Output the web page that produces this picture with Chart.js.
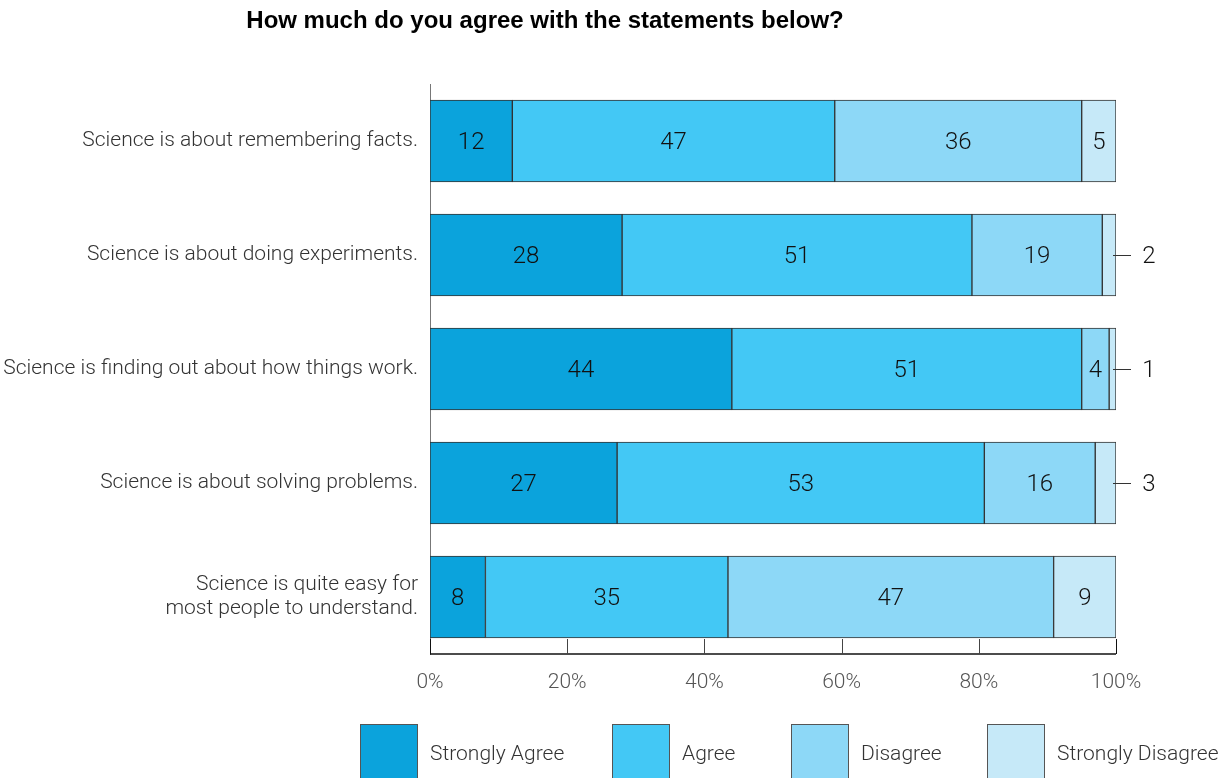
<!DOCTYPE html>
<html>
<head>
<meta charset="utf-8">
<script src="https://cdn.jsdelivr.net/npm/chart.js@4/dist/chart.umd.min.js"></script>
<style>
  body { margin: 0; background: #fff; }
  #wrap { width: 1227px; height: 778px; position: relative; }
</style>
</head>
<body>
<div id="wrap"><canvas id="chart"></canvas></div>
<script>
const statements = [
  'Science is about remembering facts.',
  'Science is about doing experiments.',
  'Science is finding out about how things work.',
  'Science is about solving problems.',
  ['Science is quite easy for', 'most people to understand.']
];
const stronglyAgree = [12, 28, 44, 27, 8];
const agree = [47, 51, 51, 53, 35];
const disagree = [36, 19, 4, 16, 47];
const stronglyDisagree = [5, 2, 1, 3, 9];
const responses = ['Strongly Agree', 'Agree', 'Disagree', 'Strongly Disagree'];
const colors = ['#0ba3dc', '#43c8f5', '#8dd8f7', '#c6e9f8'];

const FONT = 'Roboto, "Liberation Sans", Arial, sans-serif';
const series = [stronglyAgree, agree, disagree, stronglyDisagree];
const totals = statements.map((_, i) => series.reduce((s, arr) => s + arr[i], 0));

// each row is stretched to 100% of its own total
const datasets = series.map((vals, k) => ({
  label: responses[k],
  values: vals,
  data: vals.map((v, i) => v / totals[i] * 100),
  backgroundColor: colors[k],
  borderColor: '#333',
  borderWidth: 1,
  borderSkipped: false,
  barThickness: 82
}));

// numbers on the segments, small ones pulled out to the right with a leader
const segmentLabels = {
  id: 'segmentLabels',
  afterDatasetsDraw(chart) {
    const ctx = chart.ctx;
    ctx.save();
    ctx.font = '300 24px ' + FONT;
    ctx.fillStyle = '#111';
    ctx.textBaseline = 'middle';
    ctx.textAlign = 'center';
    chart.data.datasets.forEach((ds, k) => {
      chart.getDatasetMeta(k).data.forEach((bar, i) => {
        const v = ds.values[i];
        const c = bar.getCenterPoint();
        if (v <= 3) {
          ctx.strokeStyle = '#333';
          ctx.lineWidth = 1;
          ctx.beginPath();
          ctx.moveTo(bar.x - 3, c.y + 0.5);
          ctx.lineTo(bar.x + 15, c.y + 0.5);
          ctx.stroke();
          ctx.fillText(String(v), bar.x + 33, c.y + 2);
        } else {
          ctx.fillText(String(v), c.x, c.y + 2);
        }
      });
    });
    ctx.restore();
  }
};

// bottom axis line with ticks pointing up into the plot
const axisTicks = {
  id: 'axisTicks',
  afterDraw(chart) {
    const ctx = chart.ctx;
    const x = chart.scales.x;
    const bottom = chart.chartArea.bottom;
    ctx.save();
    ctx.strokeStyle = '#111';
    ctx.lineWidth = 1.5;
    ctx.beginPath();
    ctx.moveTo(x.left, bottom);
    ctx.lineTo(x.right, bottom);
    ctx.stroke();
    ctx.lineWidth = 1;
    x.ticks.forEach(t => {
      const px = Math.round(x.getPixelForValue(t.value)) + 0.5;
      ctx.strokeStyle = (t.value === 0 || t.value === 100) ? '#111' : '#444';
      ctx.beginPath();
      ctx.moveTo(px, bottom);
      ctx.lineTo(px, bottom - 15);
      ctx.stroke();
    });
    ctx.restore();
  }
};

const titleAndLegend = {
  id: 'titleAndLegend',
  afterDraw(chart) {
    const ctx = chart.ctx;
    ctx.save();
    ctx.fillStyle = '#000';
    ctx.font = 'bold 24px "Liberation Sans", Arial, sans-serif';
    ctx.textAlign = 'center';
    ctx.textBaseline = 'middle';
    ctx.fillText('How much do you agree with the statements below?', 545, 21);

    const boxX = [360, 612, 791, 987];
    ctx.font = '300 21px ' + FONT;
    ctx.textAlign = 'left';
    chart.data.datasets.forEach((ds, k) => {
      ctx.fillStyle = ds.backgroundColor;
      ctx.fillRect(boxX[k], 724, 57, 60);
      ctx.strokeStyle = '#555';
      ctx.lineWidth = 1;
      ctx.strokeRect(boxX[k] + 0.5, 724.5, 57, 60);
      ctx.fillStyle = '#333';
      ctx.fillText(ds.label, boxX[k] + 70, 755);
    });
    ctx.restore();
  }
};

new Chart(document.getElementById('chart'), {
  type: 'bar',
  data: { labels: statements, datasets },
  plugins: [segmentLabels, axisTicks, titleAndLegend],
  options: {
    indexAxis: 'y',
    responsive: true,
    maintainAspectRatio: false,
    animation: false,
    layout: { padding: { top: 84, right: 111, bottom: 0, left: 0 } },
    plugins: {
      legend: { display: false },
      tooltip: { enabled: false }
    },
    scales: {
      x: {
        stacked: true,
        min: 0,
        max: 100,
        ticks: {
          stepSize: 20,
          color: '#555',
          padding: 16,
          font: { family: FONT, size: 21, weight: 300 },
          callback: v => v + '%'
        },
        grid: { display: false, drawTicks: false },
        border: { display: false },
        afterFit: s => { s.height = 124; }
      },
      y: {
        stacked: true,
        ticks: {
          color: '#333',
          padding: 12,
          font: { family: FONT, size: 21, weight: 300, lineHeight: 1.15 }
        },
        grid: { display: false, drawTicks: false },
        border: { display: true, color: '#777', width: 1 },
        afterFit: s => { s.width = 430; }
      }
    }
  }
});
</script>
</body>
</html>
